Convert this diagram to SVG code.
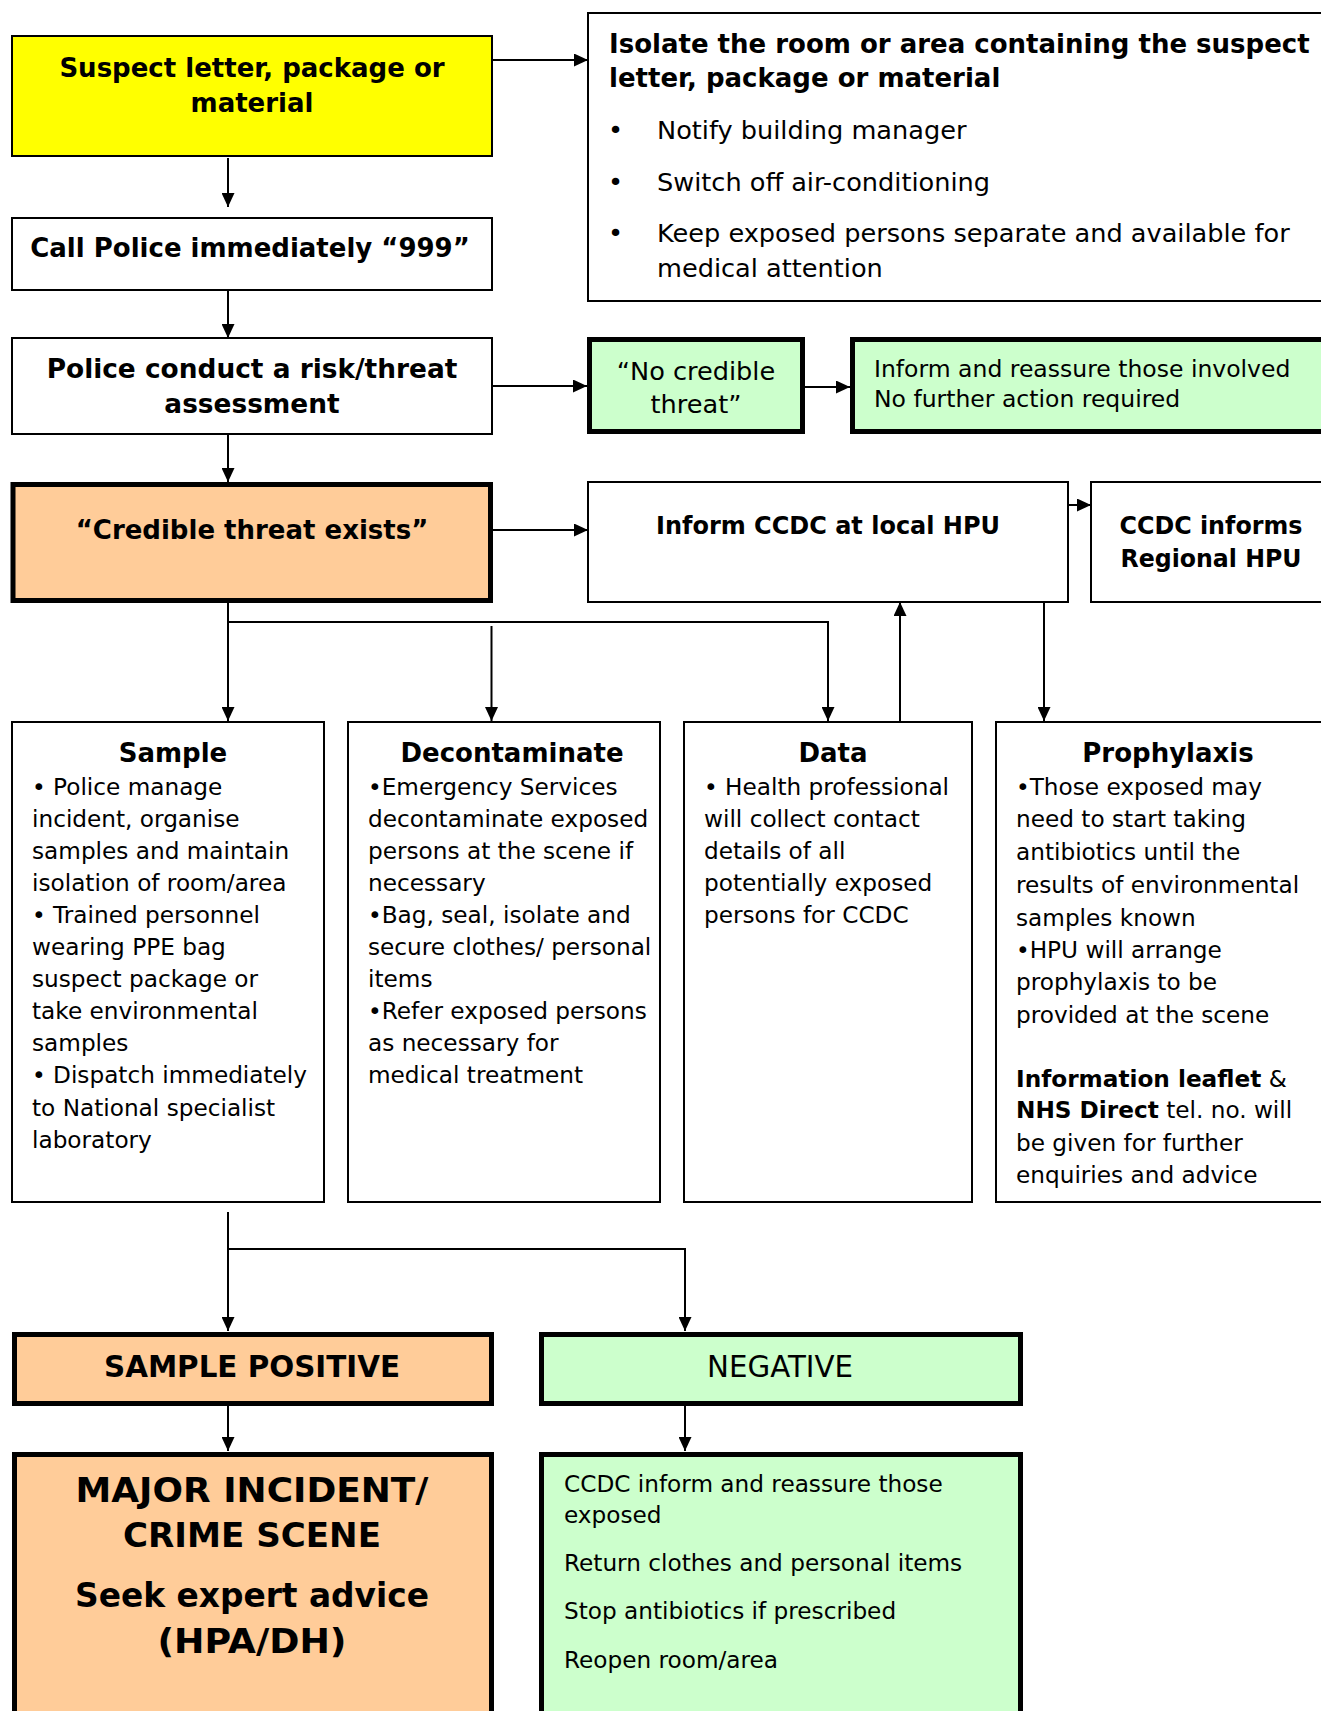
<svg xmlns="http://www.w3.org/2000/svg" width="1321" height="1711" viewBox="0 0 1321 1711">
<style>
  text { font-family: "DejaVu Sans", Verdana, sans-serif; fill: #000; }
  .b { font-weight: bold; }
  .t26 { font-size: 26px; }
  .c { text-anchor: middle; }
  .body { font-size: 23.2px; }
  .thin { stroke: #000; stroke-width: 2; }
  .thick { stroke: #000; stroke-width: 5; }
  .white { fill: #fff; }
  .yellow { fill: #ffff00; }
  .orange { fill: #ffcc99; }
  .green { fill: #ccffcc; }
  .conn { fill: none; stroke: #000; stroke-width: 2; }
</style>
<defs>
  <marker id="arr" markerUnits="userSpaceOnUse" markerWidth="14" markerHeight="13" viewBox="0 0 14 13" refX="14" refY="6.5" orient="auto">
    <path d="M0,0 L14,6.5 L0,13 z" fill="#000"/>
  </marker>
</defs>
<rect width="1321" height="1711" fill="#fff"/>

<g id="connectors">
  <line class="conn" x1="492" y1="60" x2="588" y2="60" marker-end="url(#arr)"/>
  <line class="conn" x1="228" y1="158" x2="228" y2="207" marker-end="url(#arr)"/>
  <line class="conn" x1="228" y1="290" x2="228" y2="338" marker-end="url(#arr)"/>
  <line class="conn" x1="492" y1="386" x2="587" y2="386" marker-end="url(#arr)"/>
  <line class="conn" x1="805" y1="387" x2="850" y2="387" marker-end="url(#arr)"/>
  <line class="conn" x1="228" y1="434" x2="228" y2="482" marker-end="url(#arr)"/>
  <line class="conn" x1="493" y1="530" x2="588" y2="530" marker-end="url(#arr)"/>
  <line class="conn" x1="1068" y1="505" x2="1091" y2="505" marker-end="url(#arr)"/>
  <line class="conn" x1="228" y1="603" x2="228" y2="721" marker-end="url(#arr)"/>
  <polyline class="conn" points="228,622 828,622 828,721" marker-end="url(#arr)"/>
  <line class="conn" x1="491.5" y1="626" x2="491.5" y2="721" marker-end="url(#arr)"/>
  <line class="conn" x1="900" y1="721" x2="900" y2="602" marker-end="url(#arr)"/>
  <line class="conn" x1="1044" y1="602" x2="1044" y2="721" marker-end="url(#arr)"/>
  <line class="conn" x1="228" y1="1212" x2="228" y2="1331" marker-end="url(#arr)"/>
  <polyline class="conn" points="228,1249 685,1249 685,1331" marker-end="url(#arr)"/>
  <line class="conn" x1="228" y1="1406" x2="228" y2="1451" marker-end="url(#arr)"/>
  <line class="conn" x1="685" y1="1406" x2="685" y2="1451" marker-end="url(#arr)"/>
</g>

<g id="suspect">
  <rect class="yellow thin" x="12" y="36" width="480" height="120"/>
  <text class="b t26 c" x="252" y="77">Suspect letter, package or</text>
  <text class="b t26 c" x="252" y="112">material</text>
</g>

<g id="isolate">
  <rect class="white thin" x="588" y="13" width="740" height="288"/>
  <text class="b t26" x="609" y="53">Isolate the room or area containing the suspect</text>
  <text class="b t26" x="609" y="87">letter, package or material</text>
  <g style="font-size:25.6px">
    <text x="608" y="139">•</text><text x="657" y="139">Notify building manager</text>
    <text x="608" y="191">•</text><text x="657" y="191">Switch off air-conditioning</text>
    <text x="608" y="242">•</text><text x="657" y="242">Keep exposed persons separate and available for</text>
    <text x="657" y="277">medical attention</text>
  </g>
</g>

<g id="call-police">
  <rect class="white thin" x="12" y="218" width="480" height="72"/>
  <text class="b t26 c" x="250" y="257">Call Police immediately “999”</text>
</g>

<g id="police-assessment">
  <rect class="white thin" x="12" y="338" width="480" height="96"/>
  <text class="b c" style="font-size:26.4px" x="252" y="378">Police conduct a risk/threat</text>
  <text class="b c" style="font-size:26.4px" x="252" y="413">assessment</text>
</g>

<g id="no-credible">
  <rect class="green thick" x="589.5" y="339.5" width="213" height="92"/>
  <text class="c" style="font-size:25.6px" x="696" y="380">“No credible</text>
  <text class="c" style="font-size:25.6px" x="696" y="413">threat”</text>
</g>

<g id="inform-reassure">
  <rect class="green thick" x="852.5" y="339.5" width="480" height="92"/>
  <text style="font-size:23.5px" x="874" y="377">Inform and reassure those involved</text>
  <text style="font-size:23.5px" x="874" y="407">No further action required</text>
</g>

<g id="credible">
  <rect class="orange thick" x="13" y="484.5" width="477.5" height="116"/>
  <text class="b t26 c" x="252" y="539">“Credible threat exists”</text>
</g>

<g id="inform-ccdc">
  <rect class="white thin" x="588" y="482" width="480" height="120"/>
  <text class="b c" style="font-size:25px" x="828" y="534" textLength="344" lengthAdjust="spacingAndGlyphs">Inform CCDC at local HPU</text>
</g>

<g id="ccdc-regional">
  <rect class="white thin" x="1091" y="482" width="240" height="120"/>
  <text class="b c" style="font-size:25px" x="1211" y="534" textLength="183" lengthAdjust="spacingAndGlyphs">CCDC informs</text>
  <text class="b c" style="font-size:25px" x="1211" y="567" textLength="181" lengthAdjust="spacingAndGlyphs">Regional HPU</text>
</g>

<g id="sample">
  <rect class="white thin" x="12" y="722" width="312" height="480"/>
  <text class="b t26 c" x="173" y="762">Sample</text>
  <g class="body">
    <text x="32" y="795">• Police manage</text>
    <text x="32" y="827">incident, organise</text>
    <text x="32" y="859">samples and maintain</text>
    <text x="32" y="891">isolation of room/area</text>
    <text x="32" y="923">• Trained personnel</text>
    <text x="32" y="955">wearing PPE bag</text>
    <text x="32" y="987">suspect package or</text>
    <text x="32" y="1019">take environmental</text>
    <text x="32" y="1051">samples</text>
    <text x="32" y="1083">• Dispatch immediately</text>
    <text x="32" y="1116">to National specialist</text>
    <text x="32" y="1148">laboratory</text>
  </g>
</g>

<g id="decontaminate">
  <rect class="white thin" x="348" y="722" width="312" height="480"/>
  <text class="b t26 c" x="512" y="762">Decontaminate</text>
  <g class="body">
    <text x="368" y="795">•Emergency Services</text>
    <text x="368" y="827">decontaminate exposed</text>
    <text x="368" y="859">persons at the scene if</text>
    <text x="368" y="891">necessary</text>
    <text x="368" y="923">•Bag, seal, isolate and</text>
    <text x="368" y="955">secure clothes/ personal</text>
    <text x="368" y="987">items</text>
    <text x="368" y="1019">•Refer exposed persons</text>
    <text x="368" y="1051">as necessary for</text>
    <text x="368" y="1083">medical treatment</text>
  </g>
</g>

<g id="data">
  <rect class="white thin" x="684" y="722" width="288" height="480"/>
  <text class="b t26 c" x="833" y="762">Data</text>
  <g class="body">
    <text x="704" y="795">• Health professional</text>
    <text x="704" y="827">will collect contact</text>
    <text x="704" y="859">details of all</text>
    <text x="704" y="891">potentially exposed</text>
    <text x="704" y="923">persons for CCDC</text>
  </g>
</g>

<g id="prophylaxis">
  <rect class="white thin" x="996" y="722" width="340" height="480"/>
  <text class="b t26 c" x="1168" y="762">Prophylaxis</text>
  <g class="body">
    <text x="1016" y="795">•Those exposed may</text>
    <text x="1016" y="827">need to start taking</text>
    <text x="1016" y="860">antibiotics until the</text>
    <text x="1016" y="893">results of environmental</text>
    <text x="1016" y="926">samples known</text>
    <text x="1016" y="958">•HPU will arrange</text>
    <text x="1016" y="990">prophylaxis to be</text>
    <text x="1016" y="1023">provided at the scene</text>
    <text x="1016" y="1087"><tspan class="b">Information leaflet</tspan> &amp;</text>
    <text x="1016" y="1118"><tspan class="b">NHS Direct</tspan> tel. no. will</text>
    <text x="1016" y="1151">be given for further</text>
    <text x="1016" y="1183">enquiries and advice</text>
  </g>
</g>

<g id="sample-positive">
  <rect class="orange thick" x="14.5" y="1334.5" width="477" height="69"/>
  <text class="b c" style="font-size:29.5px" x="252" y="1377" textLength="296" lengthAdjust="spacingAndGlyphs">SAMPLE POSITIVE</text>
</g>

<g id="negative">
  <rect class="green thick" x="541.5" y="1334.5" width="479" height="69"/>
  <text class="c" style="font-size:29.5px" x="780" y="1377" textLength="146" lengthAdjust="spacingAndGlyphs">NEGATIVE</text>
</g>

<g id="major-incident">
  <rect class="orange thick" x="14.5" y="1454.5" width="477" height="270"/>
  <g class="b c" style="font-size:34px">
    <text x="252" y="1502" textLength="353" lengthAdjust="spacingAndGlyphs">MAJOR INCIDENT/</text>
    <text x="252" y="1547" textLength="258" lengthAdjust="spacingAndGlyphs">CRIME SCENE</text>
    <text x="252" y="1607" textLength="354" lengthAdjust="spacingAndGlyphs">Seek expert advice</text>
    <text x="252" y="1653" textLength="189" lengthAdjust="spacingAndGlyphs">(HPA/DH)</text>
  </g>
</g>

<g id="negative-actions">
  <rect class="green thick" x="541.5" y="1454.5" width="479" height="270"/>
  <g class="body">
    <text x="564" y="1492">CCDC inform and reassure those</text>
    <text x="564" y="1523">exposed</text>
    <text x="564" y="1571">Return clothes and personal items</text>
    <text x="564" y="1619">Stop antibiotics if prescribed</text>
    <text x="564" y="1668">Reopen room/area</text>
  </g>
</g>
</svg>
